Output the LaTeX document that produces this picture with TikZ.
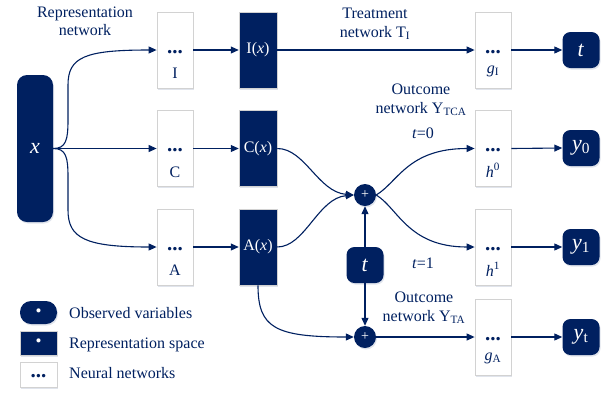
\documentclass[tikz,border=0pt]{standalone}
\usepackage{fontspec}
\setmainfont{Liberation Serif}
\usetikzlibrary{arrows.meta,shadows}
\definecolor{navy}{HTML}{002060}
\definecolor{boxgray}{HTML}{D2D2D2}
\begin{document}
\begin{tikzpicture}[x=1pt,y=-1pt,
  every node/.style={font=\fontsize{16}{19}\selectfont, text=navy, inner sep=0pt},
  conn/.style={draw=navy, line width=1.1pt},
  arr/.style={conn, -{Triangle[length=8pt,width=7pt]}},
  shad/.style={drop shadow={shadow xshift=1pt,shadow yshift=-1.5pt,opacity=0.12,fill=navy}},
  netbox/.style={draw=boxgray, fill=white, line width=0.8pt, minimum width=36pt, minimum height=76pt, shad},
  repbox/.style={draw=boxgray, fill=navy, line width=0.5pt, minimum width=38pt, minimum height=76pt, text=white, shad},
  obs/.style={fill=navy, rounded corners=8pt, text=white, minimum width=37pt, minimum height=36pt, shad, font=\fontsize{22}{24}\selectfont},
  plusn/.style={circle, fill=navy, text=white, minimum size=22pt, shad, font=\fontsize{14}{14}\selectfont},
  dotsn/.style={anchor=base, font=\fontsize{21}{21}\selectfont\bfseries},
  lbl/.style={anchor=base},
]
\useasboundingbox (0,0) rectangle (611,392);

% input
\node[obs, minimum height=147pt, minimum width=36pt, rounded corners=10pt] (x) at (35,148.5) {\textit{x}};

% representation networks
\node[netbox] (nI) at (175,50) {};
\node[dotsn] (dI) at (175,53) {...};
\node[lbl] (lI) at (175,78) {I};
\node[netbox] (nC) at (175,148.5) {};
\node[dotsn] (dC) at (175,151.5) {...};
\node[lbl] (lC) at (175,177) {C};
\node[netbox] (nA) at (175,247) {};
\node[dotsn] (dA) at (175,250) {...};
\node[lbl] (lA) at (175,275) {A};

% representation spaces
\node[repbox] (rI) at (258,50) {I(\textit{x})};
\node[repbox] (rC) at (258,148.5) {C(\textit{x})};
\node[repbox] (rA) at (258,247) {A(\textit{x})};

% plus nodes and t
\node[plusn] (p1) at (365,195) {+};
\node[plusn] (p2) at (365,337) {+};
\node[obs] (tm) at (365,265) {\textit{t}};

% outcome / treatment networks
\node[netbox] (gI) at (493,50) {};
\node[dotsn] (dgI) at (493,53) {...};
\node[lbl] (lgI) at (493,73) {\textit{g}\textsubscript{I}};
\node[netbox] (h0) at (493,148.5) {};
\node[dotsn] (dh0) at (493,151.5) {...};
\node[lbl] (lh0) at (493,177) {\textit{h}\textsuperscript{0}};
\node[netbox] (h1) at (493,247) {};
\node[dotsn] (dh1) at (493,250) {...};
\node[lbl] (lh1) at (493,276) {\textit{h}\textsuperscript{1}};
\node[netbox] (gA) at (493,337) {};
\node[dotsn] (dgA) at (493,340) {...};
\node[lbl] (lgA) at (493,360) {\textit{g}\textsubscript{A}};

% outputs
\node[obs] (to) at (581,50) {\textit{t}};
\node[obs] (y0) at (581,148) {\textit{y}\textsubscript{0}};
\node[obs] (y1) at (581,247) {\textit{y}\textsubscript{1}};
\node[obs] (yt) at (581,337) {\textit{y}\textsubscript{t}};

% text labels
\node[lbl] (tr1) at (85,17) {Representation};
\node[lbl] (tr2) at (85,35) {network};
\node[lbl] (tt1) at (375,18) {Treatment};
\node[lbl] (tt2) at (375,37) {network T\textsubscript{I}};
\node[lbl] (to1) at (421,94) {Outcome};
\node[lbl] (to2) at (421,113) {network Y\textsubscript{TCA}};
\node[lbl] (tz) at (423,138) {\textit{t}=0};
\node[lbl] (tu) at (423,268) {\textit{t}=1};
\node[lbl] (tp1) at (424,302) {Outcome};
\node[lbl] (tp2) at (424,321) {network Y\textsubscript{TA}};

% connectors
\draw[arr] (x.east) .. controls (66,148.5) and (68,140) .. (68,120) -- (68,85) .. controls (68,57) and (85,50) .. (nI.west);
\draw[arr] (x.east) -- (nC.west);
\draw[arr] (x.east) .. controls (66,148.5) and (68,157) .. (68,177) -- (68,210) .. controls (68,238) and (85,247) .. (nA.west);
\draw[arr] (nI.east) -- (rI.west);
\draw[arr] (nC.east) -- (rC.west);
\draw[arr] (nA.east) -- (rA.west);
\draw[arr] (rI.east) -- (gI.west);
\draw[arr] (rC.east) .. controls (305,148.5) and (318,192) .. (p1.west);
\draw[arr] (rA.east) .. controls (305,247) and (318,198) .. (p1.west);
\draw[arr] (rA.south) .. controls (258,328) and (275,337) .. (p2.west);
\draw[arr] (tm.north) -- (p1.south);
\draw[arr] (tm.south) -- (p2.north);
\draw[arr] (p1.east) .. controls (398,182) and (408,148.5) .. (h0.west);
\draw[arr] (p1.east) .. controls (398,208) and (408,247) .. (h1.west);
\draw[arr] (p2.east) -- (gA.west);
\draw[arr] (gI.east) -- (to.west);
\draw[arr] (h0.east) -- (y0.west);
\draw[arr] (h1.east) -- (y1.west);
\draw[arr] (gA.east) -- (yt.west);

% legend
\node[obs, minimum height=23pt, rounded corners=11pt, font=\fontsize{17}{17}\selectfont] (lo) at (38.5,312.5) {\textbullet};
\node[repbox, minimum width=37pt, minimum height=24pt, font=\fontsize{17}{17}\selectfont] (lr) at (38.5,343) {\textbullet};
\node[netbox, minimum width=37pt, minimum height=25pt] (ln) at (38.5,374.5) {};
\node[dotsn] (ld) at (38.5,377.5) {...};
\node[anchor=base west] (lt1) at (69,318) {Observed variables};
\node[anchor=base west] (lt2) at (69,348) {Representation space};
\node[anchor=base west] (lt3) at (69,378) {Neural networks};
\end{tikzpicture}
\end{document}
